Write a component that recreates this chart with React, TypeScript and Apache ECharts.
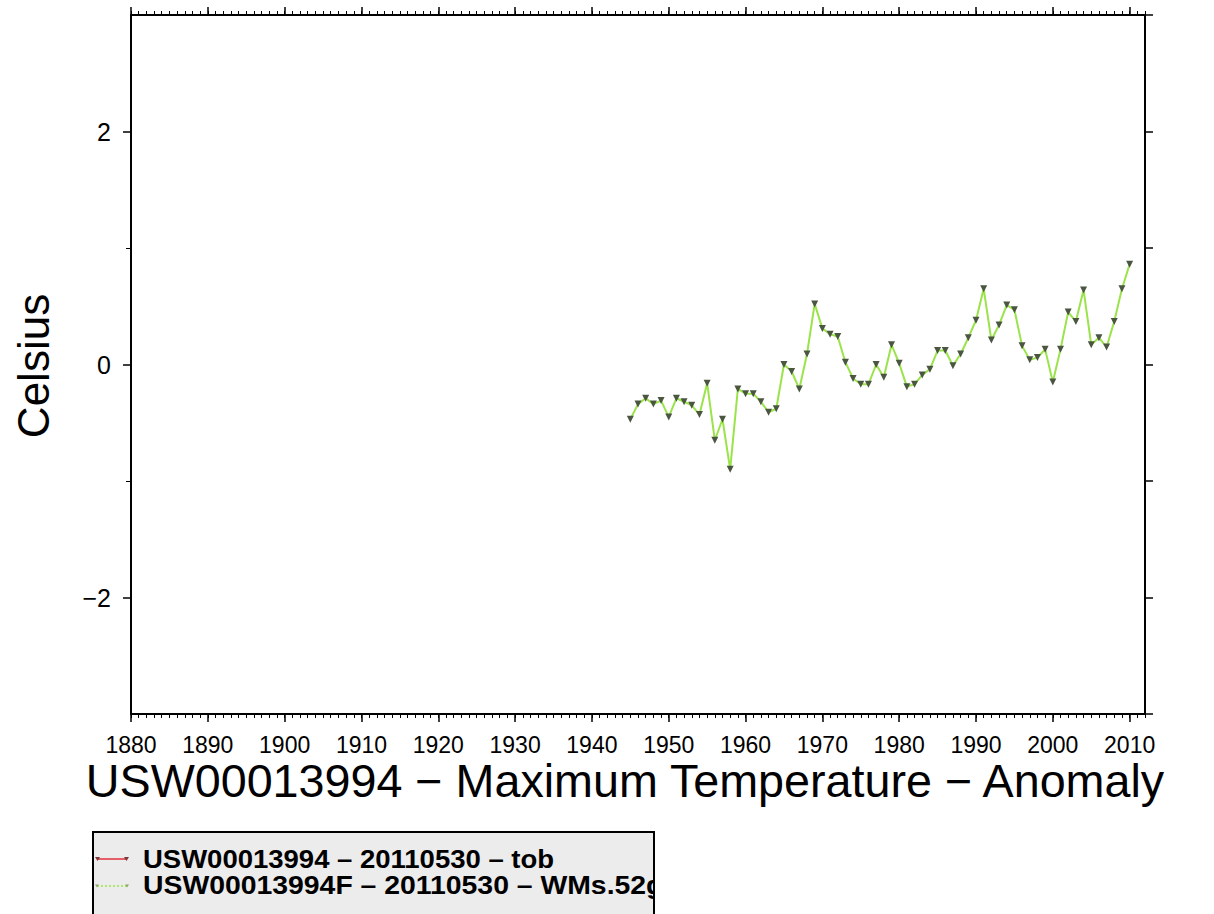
import React, { useEffect, useRef } from "react";
import * as echarts from "echarts";

const years = [
  1945, 1946, 1947, 1948, 1949, 1950, 1951, 1952, 1953, 1954,
  1955, 1956, 1957, 1958, 1959, 1960, 1961, 1962, 1963, 1964,
  1965, 1966, 1967, 1968, 1969, 1970, 1971, 1972, 1973, 1974,
  1975, 1976, 1977, 1978, 1979, 1980, 1981, 1982, 1983, 1984,
  1985, 1986, 1987, 1988, 1989, 1990, 1991, 1992, 1993, 1994,
  1995, 1996, 1997, 1998, 1999, 2000, 2001, 2002, 2003, 2004,
  2005, 2006, 2007, 2008, 2009, 2010,
];

const anomalyWMs = [
  -0.47, -0.34, -0.29, -0.34, -0.31, -0.45, -0.29, -0.32, -0.35, -0.43,
  -0.16, -0.65, -0.47, -0.9, -0.21, -0.25, -0.25, -0.32, -0.41, -0.38,
  0.0, -0.06, -0.21, 0.09, 0.52, 0.31, 0.26, 0.24, 0.02, -0.12,
  -0.17, -0.17, 0.0, -0.11, 0.17, 0.01, -0.19, -0.17, -0.09, -0.04,
  0.12, 0.12, -0.01, 0.09, 0.23, 0.38, 0.65, 0.21, 0.34, 0.51,
  0.47, 0.16, 0.04, 0.06, 0.13, -0.15, 0.13, 0.45, 0.37, 0.64,
  0.17, 0.23, 0.15, 0.37, 0.65, 0.86,
];

const xTickLabels = [1880, 1890, 1900, 1910, 1920, 1930, 1940, 1950, 1960, 1970, 1980, 1990, 2000, 2010];
const yTickLabels = [-2, 0, 2];
const yMinorTicks = [-1, 1];

const titleText = "USW00013994 \u2212 Maximum Temperature \u2212 Anomaly";
const yAxisTitle = "Celsius";
const legendNames = [
  "USW00013994 \u2013 20110530 \u2013 tob",
  "USW00013994F \u2013 20110530 \u2013 WMs.52g",
];

const FONT = '"Liberation Sans", Arial, Helvetica, sans-serif';
const GREEN = "#9be34a";
const MARK = "#4a5640";

export default function App() {
  const ref = useRef<HTMLDivElement>(null);

  useEffect(() => {
    document.body.style.margin = "0";
    const chart = echarts.init(ref.current!, null, { renderer: "svg" });

    const frame = { show: true, onZero: false, lineStyle: { color: "#000", width: 2 } };
    const noLine = { show: false, onZero: false };
    const plain = (v: number) => (v < 0 ? "\u2212" + Math.abs(v) : String(v));

    const option: any = {
      animation: false,
      backgroundColor: "#fff",
      grid: { left: 131, top: 15, width: 1014, height: 699, containLabel: false },
      xAxis: [
        {
          type: "value", position: "bottom", min: 1880, max: 2012,
          axisLine: frame, splitLine: { show: false },
          axisTick: { show: true, inside: false, length: 8, customValues: xTickLabels, lineStyle: { color: "#000", width: 1.5 } },
          axisLabel: {
            show: true, customValues: xTickLabels, margin: 22, color: "#000",
            fontSize: 23, lineHeight: 18, fontFamily: FONT, formatter: plain,
          },
        },
        {
          type: "value", position: "bottom", min: 1880, max: 2012, interval: 1,
          axisLine: noLine, splitLine: { show: false }, axisLabel: { show: false },
          axisTick: { show: true, length: 4, lineStyle: { color: "#000", width: 1 } },
        },
        {
          type: "value", position: "top", min: 1880, max: 2012,
          axisLine: frame, splitLine: { show: false }, axisLabel: { show: false },
          axisTick: { show: true, length: 8, customValues: xTickLabels, lineStyle: { color: "#000", width: 1.5 } },
        },
        {
          type: "value", position: "top", min: 1880, max: 2012, interval: 1,
          axisLine: noLine, splitLine: { show: false }, axisLabel: { show: false },
          axisTick: { show: true, length: 4, lineStyle: { color: "#000", width: 1 } },
        },
      ],
      yAxis: [
        {
          type: "value", position: "left", min: -3, max: 3,
          axisLine: frame, splitLine: { show: false },
          axisTick: { show: true, length: 8, customValues: yTickLabels, lineStyle: { color: "#000", width: 1.5 } },
          axisLabel: { show: true, customValues: yTickLabels, margin: 20, color: "#000", fontSize: 25, fontFamily: FONT, formatter: plain },
        },
        {
          type: "value", position: "left", min: -3, max: 3,
          axisLine: noLine, splitLine: { show: false }, axisLabel: { show: false },
          axisTick: { show: true, length: 5, customValues: yMinorTicks, lineStyle: { color: "#000", width: 1 } },
        },
        {
          type: "value", position: "right", min: -3, max: 3, interval: 1,
          axisLine: frame, splitLine: { show: false }, axisLabel: { show: false },
          axisTick: { show: true, length: 8, lineStyle: { color: "#000", width: 1.5 } },
        },
      ],
      series: [
        {
          name: legendNames[1],
          type: "line",
          xAxisIndex: 0,
          yAxisIndex: 0,
          data: years.map((y, i) => [y, anomalyWMs[i]]),
          lineStyle: { color: GREEN, width: 2 },
          symbol: "triangle",
          symbolRotate: 180,
          symbolSize: 7,
          showAllSymbol: true,
          itemStyle: { color: MARK, borderWidth: 0 },
          z: 3,
        },
      ],
      graphic: [
        {
          type: "text", x: 33, y: 366, rotation: Math.PI / 2,
          style: { text: yAxisTitle, font: `44px ${FONT}`, fill: "#000", align: "center", verticalAlign: "middle" },
        },
        {
          type: "text", x: 625, y: 781, scaleX: 1.015,
          style: { text: titleText, font: `46px ${FONT}`, lineHeight: 36, fill: "#000", align: "center", verticalAlign: "middle" },
        },
        {
          type: "rect", shape: { x: 93, y: 832, width: 561, height: 100 },
          style: { fill: "#ececec", stroke: "none" }, z: 10,
        },
        {
          type: "text", x: 143, y: 859, scaleX: 1.1, z: 11,
          style: { text: legendNames[0], font: `bold 25px ${FONT}`, fill: "#000", align: "left", verticalAlign: "middle" },
        },
        {
          type: "text", x: 143, y: 886, scaleX: 1.135, z: 11,
          style: { text: legendNames[1], font: `bold 25px ${FONT}`, fill: "#000", align: "left", verticalAlign: "middle" },
        },
        {
          type: "rect", shape: { x: 655, y: 834, width: 200, height: 90 },
          style: { fill: "#fff", stroke: "none" }, z: 12,
        },
        {
          type: "rect", shape: { x: 93, y: 832, width: 561, height: 100 },
          style: { fill: "none", stroke: "#000", lineWidth: 2 }, z: 13,
        },
        {
          type: "line", shape: { x1: 97, y1: 859, x2: 127, y2: 859 },
          style: { stroke: "#e0303a", lineWidth: 1.5 }, z: 12,
        },
        {
          type: "polygon", shape: { points: [[95, 857], [100, 857], [97.5, 861]] },
          style: { fill: "#7a3a3a" }, z: 12,
        },
        {
          type: "polygon", shape: { points: [[124, 857], [129, 857], [126.5, 861]] },
          style: { fill: "#7a3a3a" }, z: 12,
        },
        {
          type: "line", shape: { x1: 97, y1: 886, x2: 127, y2: 886 },
          style: { stroke: GREEN, lineWidth: 1.5, lineDash: [2, 2] }, z: 12,
        },
        {
          type: "polygon", shape: { points: [[95, 884.5], [99, 884.5], [97, 887.5]] },
          style: { fill: "#8aa860" }, z: 12,
        },
        {
          type: "polygon", shape: { points: [[125, 884.5], [129, 884.5], [127, 887.5]] },
          style: { fill: "#8aa860" }, z: 12,
        },
      ],
    };

    chart.setOption(option);
    return () => chart.dispose();
  }, []);

  return <div ref={ref} style={{ width: 1214, height: 914 }} />;
}
